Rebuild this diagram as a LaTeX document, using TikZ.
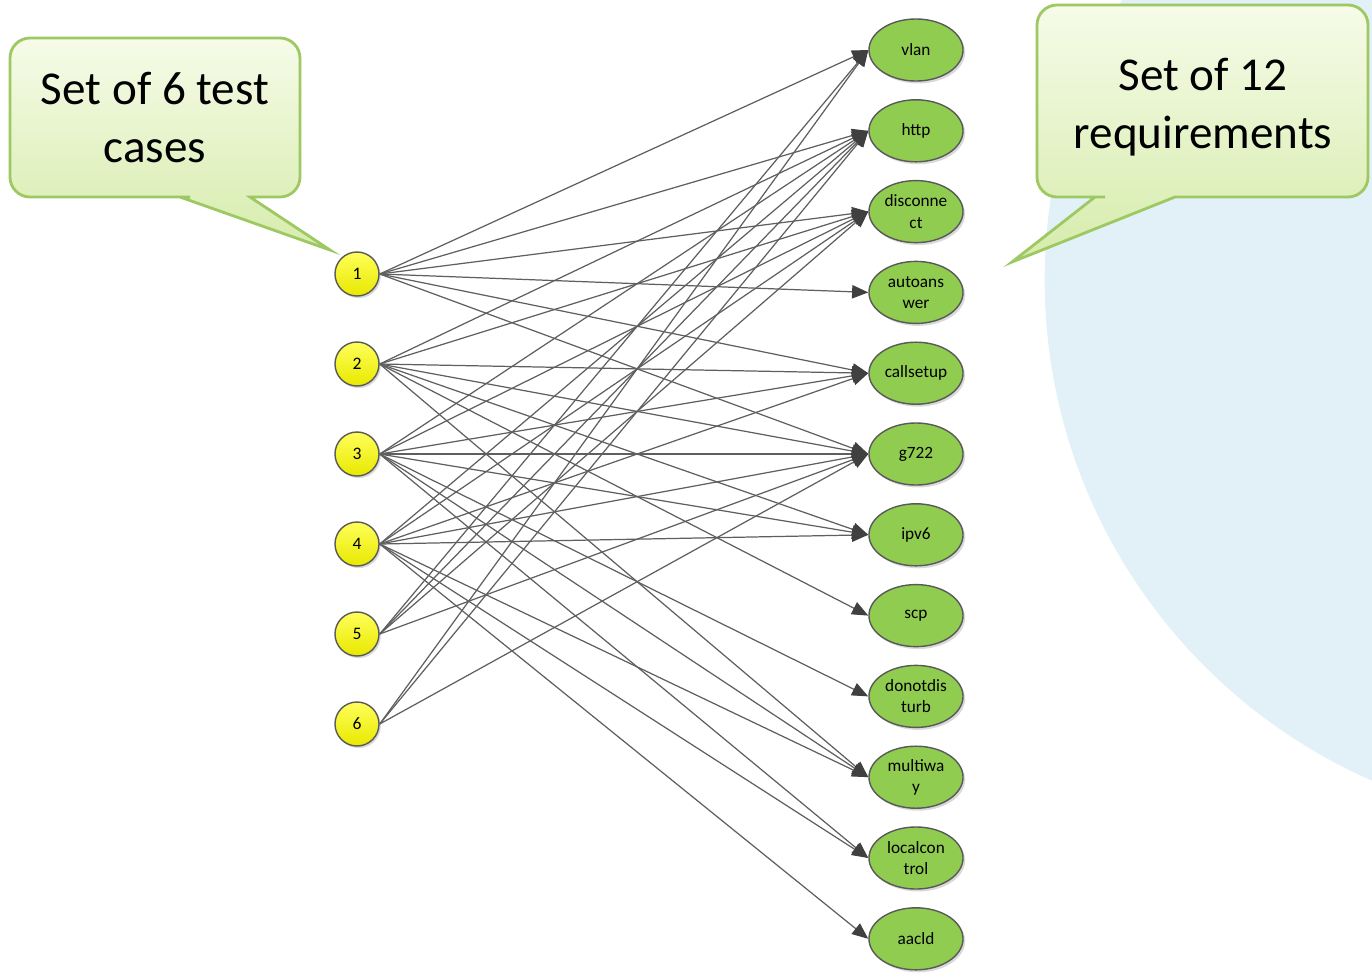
\documentclass[tikz,border=0pt]{standalone}
\usepackage{fontspec}
\setmainfont{Carlito}
\usetikzlibrary{arrows.meta,shapes.geometric,shadows}

\definecolor{bgblue}{RGB}{226,241,248}
\definecolor{bubbleline}{RGB}{158,200,98}
\definecolor{bubbletop}{RGB}{246,251,232}
\definecolor{bubblebot}{RGB}{214,236,172}
\definecolor{tctop}{RGB}{255,255,90}
\definecolor{tcbot}{RGB}{232,232,0}
\definecolor{reqgreen}{RGB}{144,204,80}
\definecolor{linkgrey}{RGB}{95,95,95}

\tikzset{
  testcase/.style={circle, minimum size=0.44cm, inner sep=0pt, draw=black!65, line width=0.4pt,
    top color=tctop, bottom color=tcbot,
    drop shadow={shadow xshift=0.5pt, shadow yshift=-0.6pt, opacity=0.3},
    font=\fontsize{5}{6}\selectfont},
  req/.style={ellipse, minimum width=0.94cm, minimum height=0.62cm, inner sep=0pt,
    draw=black!65, line width=0.4pt, fill=reqgreen, align=center,
    drop shadow={shadow xshift=0.6pt, shadow yshift=-0.7pt, opacity=0.3},
    font=\fontsize{4.9}{6}\selectfont},
  link/.style={draw=linkgrey, line width=0.35pt, -{Triangle[length=4.6pt,width=3.8pt,color=black!75]}},
  bubble/.style={draw=bubbleline, line width=0.8pt, top color=bubbletop, bottom color=bubblebot},
  bubbletext/.style={align=center, font=\fontsize{13.4}{16.5}\selectfont}
}

\begin{document}
\begin{tikzpicture}[x=0.01cm, y=-0.01cm]
  \useasboundingbox (0,0) rectangle (1372,975);

  % background disc on the right
  \begin{scope}
    \clip (0,0) rectangle (1372,975);
    \fill[bgblue] (1591,280) circle (5.46cm);
  \end{scope}

  % callouts
  \path[bubble] (10,120) [rounded corners=0.2cm] |- (170,197) [sharp corners] -- (180,197)
    -- (330,250) -- (250,197) -- (260,197) [rounded corners=0.2cm] -| (300,38) -| (10,120) -- cycle;
  \node[bubbletext] (casesnote) at (155,118) {Set of 6 test\\cases};

  \path[bubble] (1037,100) [rounded corners=0.2cm] |- (1085,197) [sharp corners] -- (1095,197)
    -- (1012,262) -- (1175,197) -- (1185,197) [rounded corners=0.2cm] -| (1368,5) -| (1037,100) -- cycle;
  \node[bubbletext] (reqnote) at (1203,107) {Set of 12\\requirements};

  % test cases
  \foreach \i in {1,...,6}
    \node[testcase] (t\i) at (357,{184+90*\i}) {\i};

  % requirements
  \foreach \id/\txt [count=\k from 0] in {vlan/vlan, http/http, disc/{disconne\\ct},
      autoans/{autoans\\wer}, callsetup/callsetup, g722/g722, ipv6/ipv6, scp/scp,
      dnd/{donotdis\\turb}, multiway/{multiwa\\y}, localctl/{localcon\\trol}, aacld/aacld}
    \node[req] (\id) at (916,{50+80.8*\k}) {\txt};

  % coverage links
  \foreach \s/\r in {t1/vlan, t1/http, t1/disc, t1/autoans, t1/callsetup, t1/g722,
      t2/http, t2/disc, t2/callsetup, t2/g722, t2/ipv6, t2/scp, t2/multiway,
      t3/http, t3/disc, t3/callsetup, t3/g722, t3/ipv6, t3/dnd, t3/multiway, t3/localctl,
      t4/http, t4/disc, t4/callsetup, t4/g722, t4/ipv6, t4/multiway, t4/localctl, t4/aacld,
      t5/vlan, t5/http, t5/disc, t5/g722,
      t6/vlan, t6/http, t6/g722}
    \draw[link] (\s.east) -- (\r.west);
\end{tikzpicture}
\end{document}
